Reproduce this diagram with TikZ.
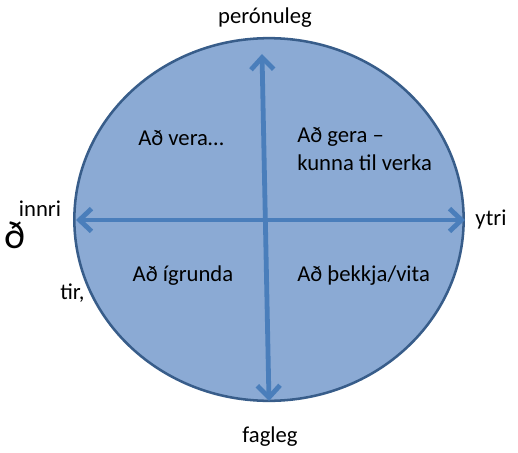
\documentclass[tikz,border=0pt]{standalone}
\usepackage{fontspec}
\setmainfont{Carlito}
\usepackage{xcolor}
\usetikzlibrary{arrows.meta,positioning,shapes.geometric}
\definecolor{ovalfill}{RGB}{139,170,212}
\definecolor{ovaldraw}{RGB}{56,93,138}
\definecolor{axisblue}{RGB}{74,126,187}
\tikzset{
  oval/.style={
    ellipse, draw=ovaldraw, line width=1.9pt, fill=ovalfill,
    minimum width=292pt, minimum height=272pt, inner sep=0pt
  },
  axis/.style={
    {Straight Barb[length=9pt,width=17pt,line width=3.6pt]}-{Straight Barb[length=9pt,width=17pt,line width=3.6pt]},
    line width=3.6pt, axisblue
  },
  quad/.style={font=\fontsize{17}{21}\selectfont, align=left, inner sep=0pt},
  pole/.style={font=\fontsize{17}{20}\selectfont, inner sep=0pt},
}
\begin{document}
\begin{tikzpicture}[x=0.75pt,y=-0.75pt]
  \useasboundingbox (0,0) rectangle (518,453);

  % leftovers at the left edge
  \node[font=\fontsize{30}{30}\selectfont, anchor=west, inner sep=0pt] (frag) at (4,235) {ð};
  \node[pole, anchor=west] (fragb) at (60,293) {tir,};

  % the oval
  \node[oval] (oval) at (269,219.5) {};

  % axis end points
  \coordinate (top) at (262,54);
  \coordinate (bot) at (269,401);
  \coordinate (lft) at (76,220);
  \coordinate (rgt) at (465,220);

  % axes
  \draw[axis] (bot) -- (top);
  \draw[axis] (lft) -- (rgt);

  % poles
  \node[pole] (personal) at (265,18) {perónuleg};
  \node[pole] (inner) at (40,209) {innri};
  \node[pole] (outer) at (491,220) {ytri};
  \node[pole] (subject) at (270,437) {fagleg};

  % quadrants
  \node[quad] (be) at (181,138) {Að vera…};
  \node[quad, anchor=west] (do) at (297,149) {Að gera –\\kunna til verka};
  \node[quad] (reflect) at (183,276) {Að ígrunda};
  \node[quad, anchor=west] (know) at (297,276) {Að þekkja/vita};
\end{tikzpicture}
\end{document}
